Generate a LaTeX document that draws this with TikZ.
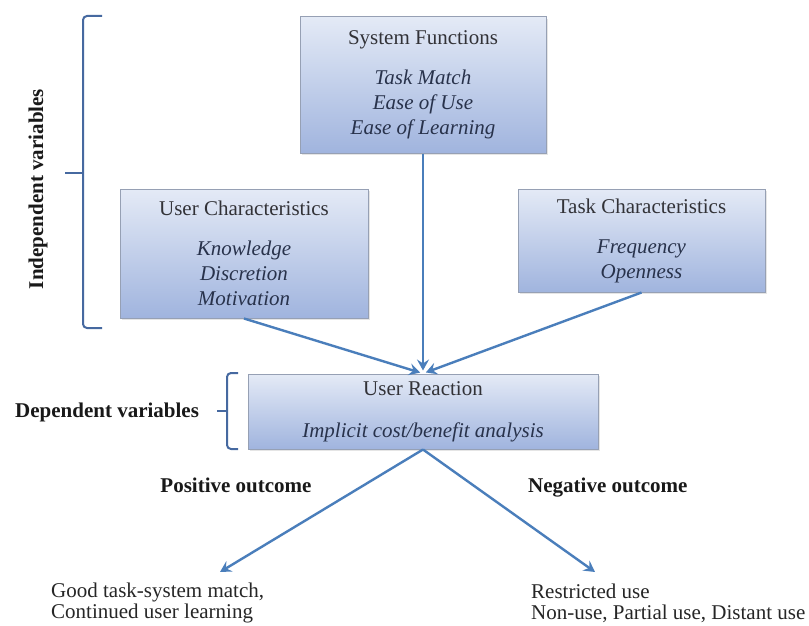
\documentclass[tikz,border=0pt]{standalone}
\usepackage{fontspec}
\setmainfont{Liberation Serif}
\usetikzlibrary{arrows.meta,shadows}
\definecolor{arrowblue}{RGB}{74,126,187}
\definecolor{bracecol}{RGB}{70,105,160}
\definecolor{boxtop}{RGB}{228,234,246}
\definecolor{boxbot}{RGB}{160,180,222}
\definecolor{boxline}{RGB}{150,160,180}
\definecolor{titlecol}{RGB}{50,50,55}
\definecolor{itcol}{RGB}{40,50,75}
\newcommand{\itline}[1]{\textcolor{itcol}{\textit{#1}}}
\begin{document}
\begin{tikzpicture}[x=1pt,y=-1pt,
 box/.style={draw=boxline, line width=1pt, top color=boxtop, bottom color=boxbot,
   drop shadow={opacity=0.2,shadow xshift=2pt,shadow yshift=-2pt},
   align=center, inner sep=0pt, text=titlecol, font=\fontsize{21}{25}\selectfont},
 flow/.style={draw=arrowblue, line width=2.4pt, -{Stealth[length=11pt,width=12pt,inset=4pt]}},
 brace/.style={draw=bracecol, line width=2pt, rounded corners=4pt},
 lbl/.style={font=\fontsize{21}{25}\selectfont\bfseries, text=black!90, inner sep=0pt},
 outtext/.style={font=\fontsize{21}{21}\selectfont, align=left, anchor=west, inner sep=0pt, text=black!85}]
\useasboundingbox (0,0) rectangle (809,626);
\fill[white] (0,0) rectangle (809,626);

\node[box, minimum width=246pt, minimum height=136pt] (sf) at (423,85)
  {System Functions\\[15pt]\itline{Task Match}\\\itline{Ease of Use}\\\itline{Ease of Learning}};
\node[box, minimum width=248pt, minimum height=129pt] (uc) at (244,253.5)
  {User Characteristics\\[15pt]\itline{Knowledge}\\\itline{Discretion}\\\itline{Motivation}};
\node[box, minimum width=247pt, minimum height=103pt] (tc) at (641.5,240.5)
  {Task Characteristics\\[15pt]\itline{Frequency}\\\itline{Openness}};
\node[box, minimum width=350pt, minimum height=75pt] (ur) at (423,411.5)
  {User Reaction\\[17pt]\itline{Implicit cost/benefit analysis}};

\draw[flow, shorten >=3pt] (uc.south) -- (ur.north);
\draw[flow, shorten >=3pt] (sf.south) -- (ur.north);
\draw[flow, shorten >=3pt] (tc.south) -- (ur.north);

\coordinate (pt) at (220,572);
\coordinate (nt) at (595,572);
\draw[flow] (ur.south) -- (pt);
\draw[flow] (ur.south) -- (nt);

\node[lbl] (pos) at (236,485) {Positive outcome};
\node[lbl, anchor=west] (neg) at (528,488) {Negative outcome};
\node[lbl, anchor=west] (dep) at (15,412) {Dependent variables};
\node[lbl, rotate=90] (ind) at (38,189) {Independent variables};

\draw[brace] (102,16) -- (83,16) -- (83,328) -- (102,328);
\draw[brace] (65,173) -- (83,173);
\draw[brace] (238,373) -- (227,373) -- (227,449) -- (238,449);
\draw[brace] (217,411) -- (227,411);

\node[outtext] (good) at (51,603) {Good task-system match,\\Continued user learning};
\node[outtext] (bad) at (531,603) {Restricted use\\Non-use, Partial use, Distant use};
\end{tikzpicture}
\end{document}
